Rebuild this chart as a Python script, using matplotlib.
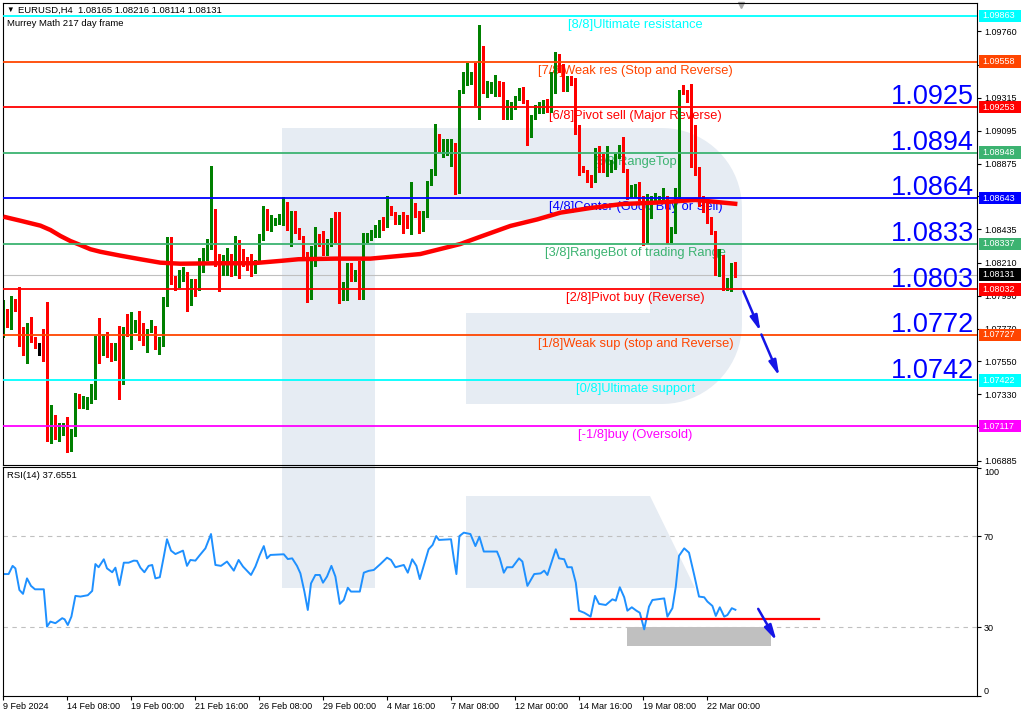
import numpy as np
import matplotlib
matplotlib.use('Agg')
import matplotlib.pyplot as plt
from matplotlib.patches import Polygon, Rectangle
from matplotlib.transforms import blended_transform_factory

plt.rcParams['font.family'] = ['Liberation Sans', 'DejaVu Sans']

# EURUSD H4 candles
opens = [1.0773, 1.0785, 1.0779, 1.0795, 1.0791, 1.0768, 1.0762, 1.0781, 1.0771, 1.0766,
         1.0766, 1.0766, 1.0707, 1.0714, 1.0708, 1.0711, 1.0713, 1.0698, 1.0707, 1.0730,
         1.0726, 1.0727, 1.0728, 1.0731, 1.0765, 1.0761, 1.0771, 1.0765, 1.0758, 1.0765,
         1.0745, 1.0777, 1.0774, 1.0779, 1.0781, 1.0775, 1.0769, 1.0775, 1.0778, 1.0765,
         1.0767, 1.0796, 1.0821, 1.0811, 1.0810, 1.0810, 1.0814, 1.0798, 1.0809, 1.0806,
         1.0817, 1.0825, 1.0832, 1.0851, 1.0823, 1.0821, 1.0821, 1.0822, 1.0816, 1.0831,
         1.0823, 1.0823, 1.0825, 1.0815, 1.0822, 1.0838, 1.0857, 1.0844, 1.0849, 1.0849,
         1.0850, 1.0852, 1.0846, 1.0850, 1.0844, 1.0838, 1.0827, 1.0798, 1.0821, 1.0838,
         1.0836, 1.0827, 1.0834, 1.0850, 1.0837, 1.0798, 1.0798, 1.0820, 1.0811, 1.0815,
         1.0811, 1.0836, 1.0837, 1.0839, 1.0843, 1.0849, 1.0847, 1.0857, 1.0854, 1.0848,
         1.0852, 1.0850, 1.0845, 1.0859, 1.0855, 1.0842, 1.0854, 1.0874, 1.0883, 1.0901,
         1.0895, 1.0897, 1.0898, 1.0901, 1.0871, 1.0936, 1.0946, 1.0945, 1.0945, 1.0934,
         1.0957, 1.0939, 1.0939, 1.0939, 1.0941, 1.0934, 1.0918, 1.0925, 1.0925, 1.0931,
         1.0937, 1.0930, 1.0909, 1.0918, 1.0923, 1.0924, 1.0927, 1.0923, 1.0936, 1.0955,
         1.0951, 1.0938, 1.0945, 1.0941, 1.0912, 1.0885, 1.0883, 1.0879, 1.0876, 1.0898,
         1.0893, 1.0883, 1.0884, 1.0885, 1.0892, 1.0898, 1.0883, 1.0866, 1.0866, 1.0870,
         1.0865, 1.0835, 1.0852, 1.0863, 1.0863, 1.0863, 1.0864, 1.0838, 1.0843, 1.0863,
         1.0938, 1.0936, 1.0931, 1.0912, 1.0884, 1.0863, 1.0859, 1.0850, 1.0841, 1.0815,
         1.0825, 1.0805, 1.0805, 1.08165]
highs = [1.0796, 1.0790, 1.0799, 1.0797, 1.0805, 1.0778, 1.0781, 1.0785, 1.0771, 1.0767,
         1.0777, 1.0795, 1.0726, 1.0719, 1.0714, 1.0714, 1.0718, 1.0710, 1.0734, 1.0733,
         1.0732, 1.0731, 1.0740, 1.0772, 1.0784, 1.0773, 1.0775, 1.0767, 1.0767, 1.0779,
         1.0778, 1.0787, 1.0788, 1.0783, 1.0789, 1.0781, 1.0777, 1.0783, 1.0779, 1.0771,
         1.0798, 1.0838, 1.0838, 1.0812, 1.0816, 1.0818, 1.0815, 1.0810, 1.0810, 1.0824,
         1.0831, 1.0837, 1.0886, 1.0857, 1.0827, 1.0826, 1.0831, 1.0827, 1.0839, 1.0836,
         1.0830, 1.0825, 1.0827, 1.0823, 1.0840, 1.0859, 1.0857, 1.0853, 1.0851, 1.0854,
         1.0865, 1.0862, 1.0856, 1.0856, 1.0844, 1.0839, 1.0828, 1.0832, 1.0845, 1.0840,
         1.0842, 1.0837, 1.0851, 1.0855, 1.0855, 1.0808, 1.0821, 1.0821, 1.0816, 1.0822,
         1.0841, 1.0841, 1.0843, 1.0846, 1.0850, 1.0852, 1.0866, 1.0859, 1.0855, 1.0853,
         1.0855, 1.0853, 1.0875, 1.0861, 1.0856, 1.0856, 1.0876, 1.0884, 1.0914, 1.0907,
         1.0904, 1.0904, 1.0904, 1.0901, 1.0937, 1.0949, 1.0955, 1.0949, 1.0955, 1.0980,
         1.0966, 1.0943, 1.0942, 1.0947, 1.0943, 1.0942, 1.0930, 1.0929, 1.0933, 1.0938,
         1.0939, 1.0930, 1.0920, 1.0927, 1.0929, 1.0930, 1.0931, 1.0949, 1.0962, 1.0961,
         1.0954, 1.0946, 1.0946, 1.0945, 1.0913, 1.0886, 1.0883, 1.0880, 1.0898, 1.0899,
         1.0894, 1.0899, 1.0890, 1.0894, 1.0900, 1.0905, 1.0884, 1.0873, 1.0874, 1.0875,
         1.0866, 1.0867, 1.0866, 1.0868, 1.0866, 1.0871, 1.0866, 1.0845, 1.0871, 1.0937,
         1.0940, 1.0937, 1.0941, 1.0913, 1.0885, 1.0866, 1.0861, 1.0852, 1.0842, 1.0830,
         1.0826, 1.0811, 1.0821, 1.08216]
lows = [1.0771, 1.0778, 1.0777, 1.0789, 1.0765, 1.0759, 1.0754, 1.0768, 1.0764, 1.0759,
        1.0755, 1.0702, 1.0700, 1.0703, 1.0702, 1.0706, 1.0694, 1.0695, 1.0705, 1.0724,
        1.0724, 1.0723, 1.0727, 1.0730, 1.0754, 1.0759, 1.0758, 1.0755, 1.0756, 1.0730,
        1.0740, 1.0772, 1.0763, 1.0775, 1.0769, 1.0766, 1.0761, 1.0775, 1.0763, 1.0760,
        1.0765, 1.0792, 1.0807, 1.0803, 1.0805, 1.0809, 1.0789, 1.0793, 1.0799, 1.0803,
        1.0815, 1.0823, 1.0830, 1.0819, 1.0802, 1.0813, 1.0813, 1.0812, 1.0813, 1.0811,
        1.0819, 1.0816, 1.0812, 1.0814, 1.0821, 1.0836, 1.0843, 1.0842, 1.0846, 1.0847,
        1.0846, 1.0843, 1.0832, 1.0841, 1.0837, 1.0823, 1.0795, 1.0797, 1.0819, 1.0832,
        1.0826, 1.0826, 1.0832, 1.0835, 1.0794, 1.0796, 1.0796, 1.0809, 1.0809, 1.0797,
        1.0797, 1.0835, 1.0836, 1.0838, 1.0838, 1.0843, 1.0845, 1.0853, 1.0847, 1.0847,
        1.0841, 1.0844, 1.0840, 1.0852, 1.0841, 1.0842, 1.0852, 1.0873, 1.0880, 1.0895,
        1.0892, 1.0893, 1.0886, 1.0867, 1.0868, 1.0935, 1.0940, 1.0941, 1.0927, 1.0917,
        1.0935, 1.0932, 1.0935, 1.0933, 1.0933, 1.0917, 1.0917, 1.0917, 1.0924, 1.0930,
        1.0928, 1.0900, 1.0905, 1.0917, 1.0921, 1.0921, 1.0922, 1.0922, 1.0935, 1.0949,
        1.0936, 1.0936, 1.0940, 1.0907, 1.0880, 1.0882, 1.0875, 1.0872, 1.0875, 1.0882,
        1.0882, 1.0879, 1.0882, 1.0884, 1.0891, 1.0882, 1.0864, 1.0865, 1.0865, 1.0863,
        1.0833, 1.0834, 1.0851, 1.0862, 1.0862, 1.0862, 1.0834, 1.0835, 1.0841, 1.0862,
        1.0934, 1.0929, 1.0885, 1.0880, 1.0859, 1.0855, 1.0848, 1.0840, 1.0813, 1.0812,
        1.0803, 1.0803, 1.0802, 1.08114]
closes = [1.0794, 1.0783, 1.0795, 1.0790, 1.0767, 1.0762, 1.0781, 1.0771, 1.0765, 1.0766,
          1.0765, 1.0707, 1.0714, 1.0708, 1.0711, 1.0713, 1.0698, 1.0708, 1.0730, 1.0726,
          1.0727, 1.0728, 1.0732, 1.0765, 1.0761, 1.0772, 1.0763, 1.0758, 1.0765, 1.0744,
          1.0777, 1.0775, 1.0779, 1.0781, 1.0773, 1.0769, 1.0775, 1.0779, 1.0765, 1.0767,
          1.0797, 1.0821, 1.0810, 1.0807, 1.0814, 1.0814, 1.0798, 1.0809, 1.0806, 1.0817,
          1.0826, 1.0833, 1.0852, 1.0821, 1.0822, 1.0823, 1.0826, 1.0816, 1.0825, 1.0823,
          1.0821, 1.0819, 1.0815, 1.0822, 1.0839, 1.0857, 1.0844, 1.0850, 1.0850, 1.0851,
          1.0852, 1.0846, 1.0850, 1.0843, 1.0838, 1.0824, 1.0798, 1.0827, 1.0837, 1.0836,
          1.0828, 1.0834, 1.0850, 1.0836, 1.0798, 1.0804, 1.0820, 1.0811, 1.0815, 1.0811,
          1.0837, 1.0838, 1.0840, 1.0844, 1.0849, 1.0847, 1.0857, 1.0854, 1.0848, 1.0852,
          1.0850, 1.0845, 1.0859, 1.0855, 1.0842, 1.0855, 1.0875, 1.0884, 1.0901, 1.0897,
          1.0897, 1.0899, 1.0901, 1.0871, 1.0936, 1.0948, 1.0947, 1.0947, 1.0934, 1.0957,
          1.0938, 1.0940, 1.0940, 1.0941, 1.0933, 1.0918, 1.0924, 1.0926, 1.0933, 1.0937,
          1.0929, 1.0910, 1.0919, 1.0924, 1.0925, 1.0928, 1.0923, 1.0936, 1.0955, 1.0950,
          1.0938, 1.0945, 1.0941, 1.0910, 1.0885, 1.0883, 1.0876, 1.0873, 1.0898, 1.0893,
          1.0883, 1.0891, 1.0886, 1.0892, 1.0899, 1.0883, 1.0865, 1.0872, 1.0872, 1.0864,
          1.0835, 1.0859, 1.0865, 1.0865, 1.0865, 1.0866, 1.0835, 1.0844, 1.0863, 1.0936,
          1.0935, 1.0930, 1.0912, 1.0885, 1.0863, 1.0856, 1.0850, 1.0841, 1.0815, 1.0826,
          1.0805, 1.0809, 1.0818, 1.08131]

# moving average (thick red line)
ma_bars = [0, 4.25, 9.25, 11.75, 14.25, 16.75, 19.25, 21.75, 24.25, 29.25, 34.25, 39.25, 44.25,
           53.75, 62.25, 69.75, 73.75, 83, 91.75, 104.25, 114.25, 119.25, 126.75, 133.5,
           139.25, 146.75, 154.75, 163, 173, 183.5]
ma_vals = [1.08519, 1.08492, 1.08459, 1.08430, 1.08390, 1.08356, 1.08329, 1.08301, 1.08284,
           1.08258, 1.08234, 1.08211, 1.08204, 1.08207, 1.08207, 1.08224, 1.08234, 1.08238,
           1.08238, 1.08269, 1.08336, 1.08385, 1.08457, 1.08501, 1.08546, 1.08577, 1.08604,
           1.08613, 1.08631, 1.08604]

# RSI(14)
rsi_bars = [0, 1.3, 2.3, 3.0, 4.0, 4.9, 5.9, 6.9, 7.9, 10.1,
            10.9, 11.75, 13.0, 14.7, 15.3, 16.1, 17.0, 18.0, 19.25, 21.1,
            22.2, 23.0, 23.8, 25.1, 25.9, 27.2, 28.0, 29.0, 30.1, 31.3,
            32.6, 33.4, 34.25, 35.25, 36.3, 37.2, 38.0, 39.1, 40.1, 40.9,
            41.9, 43.0, 44.9, 45.9, 46.75, 48.0, 49.0, 50.5, 51.9, 53.0,
            54.4, 55.9, 57.6, 58.8, 59.9, 61.9, 63.0, 64.1, 65.1, 65.9,
            66.75, 70.1, 71.1, 72.2, 73.4, 74.25, 75.25, 76.1, 76.9, 78.0,
            79.1, 79.9, 80.9, 82.0, 83.0, 84.1, 85.1, 86.1, 86.9, 89.1,
            90.1, 91.3, 92.6, 94.25, 95.9, 96.9, 98.0, 100.1, 101.1, 102.2,
            103.25, 104.1, 105.25, 106.3, 107.3, 108.2, 108.9, 111.9, 112.6, 113.25,
            114.0, 115.1, 116.75, 118.0, 119.0, 120.1, 123.4, 124.1, 125.1, 125.9,
            127.25, 128.9, 129.75, 131.0, 132.7, 134.3, 135.2, 136.0, 138.1, 138.9,
            140.2, 141.0, 142.1, 143.1, 143.9, 145.2, 146.8, 147.9, 148.9, 150.6,
            152.25, 153.1, 154.1, 155.2, 156.0, 157.1, 158.25, 159.1, 160.2, 161.4,
            162.25, 165.2, 166.0, 167.25, 168.1, 168.9, 170.2, 171.4, 172.7, 173.9,
            175.2, 176.0, 177.25, 178.1, 179.1, 180.2, 181.0, 182.1, 183.0]
rsi_vals = [53.4, 53.4, 57.0, 55.9, 46.4, 44.7, 51.5, 48.2, 46.7, 46.7,
            30.3, 32.5, 31.8, 34.0, 33.5, 31.0, 34.7, 43.8, 43.5, 44.1,
            46.0, 57.8, 56.4, 59.9, 55.9, 54.2, 56.2, 48.5, 58.4, 58.4,
            59.3, 59.2, 56.2, 54.2, 57.0, 57.4, 51.5, 52.0, 61.1, 68.7,
            63.7, 62.2, 63.7, 57.0, 59.6, 59.3, 61.5, 64.7, 71.0, 57.4,
            57.0, 58.9, 54.9, 59.6, 56.7, 53.0, 56.7, 61.8, 65.7, 60.3,
            61.8, 62.1, 60.0, 60.3, 57.0, 53.7, 45.7, 37.6, 49.3, 53.0,
            53.0, 49.6, 52.3, 57.0, 52.3, 40.3, 42.0, 47.4, 45.7, 45.7,
            54.0, 54.8, 55.2, 57.8, 60.6, 59.6, 56.4, 57.4, 54.0, 59.9,
            57.0, 51.2, 58.1, 64.3, 66.2, 70.1, 68.4, 68.7, 60.3, 53.4,
            70.1, 71.6, 71.0, 65.7, 69.8, 63.3, 63.3, 60.3, 54.0, 56.4,
            56.4, 60.3, 58.9, 48.2, 53.4, 53.7, 54.9, 53.0, 64.3, 60.3,
            59.9, 56.4, 56.4, 49.6, 37.3, 36.4, 34.7, 43.8, 40.3, 39.8,
            42.3, 41.7, 47.6, 43.2, 37.3, 38.8, 37.3, 36.4, 29.1, 39.1,
            42.0, 42.7, 34.7, 38.4, 47.9, 61.4, 64.7, 62.8, 53.0, 43.5,
            43.2, 41.3, 39.4, 35.0, 38.8, 34.7, 35.4, 38.4, 37.7]

# Murrey Math levels
levels = [1.09863, 1.09558, 1.09253, 1.08948, 1.08643, 1.08337, 1.08032, 1.07727, 1.07422, 1.07117]
level_names = ['[8/8]Ultimate resistance', '[7/8]Weak res (Stop and Reverse)',
               '[6/8]Pivot sell (Major Reverse)', '[5/8]RangeTop',
               '[4/8]Center (Good Buy or Sell)', '[3/8]RangeBot of trading Range',
               '[2/8]Pivot buy (Reverse)', '[1/8]Weak sup (stop and Reverse)',
               '[0/8]Ultimate support', '[-1/8]buy (Oversold)']
level_colors = ['#00FFFF', '#FF4500', '#FF0000', '#3CB371', '#0000FF',
                '#3CB371', '#FF0000', '#FF4500', '#00FFFF', '#FF00FF']

target_labels = ['1.0925', '1.0894', '1.0864', '1.0833', '1.0803', '1.0772', '1.0742']
target_prices = [1.09253, 1.08948, 1.08643, 1.08337, 1.08032, 1.07727, 1.07422]

price_ticks = [1.09760, 1.09535, 1.09315, 1.09095, 1.08875, 1.08655, 1.08435,
               1.08210, 1.07990, 1.07770, 1.07550, 1.07330, 1.07110, 1.06885]
last_price = 1.08131
rsi_last = 37.6551
rsi_support = 33.7

date_bars = [0, 16, 32, 48, 64, 80, 96, 112, 128, 144, 160, 176]
date_labels = ['9 Feb 2024', '14 Feb 08:00', '19 Feb 00:00', '21 Feb 16:00', '26 Feb 08:00',
               '29 Feb 00:00', '4 Mar 16:00', '7 Mar 08:00', '12 Mar 00:00', '14 Mar 16:00',
               '19 Mar 08:00', '22 Mar 00:00']

W, H = 1024, 717
fig = plt.figure(figsize=(W / 100, H / 100), dpi=100)
fig.patch.set_facecolor('white')

# background watermark logo (pixel coords)
bg = fig.add_axes([0, 0, 1, 1], zorder=0)
bg.set_xlim(0, W)
bg.set_ylim(H, 0)
bg.axis('off')
r = 80
t1 = np.linspace(-np.pi / 2, 0, 20)
t2 = np.linspace(0, np.pi / 2, 20)
outline = [(282, 128)] + [(662 + r * np.cos(a), 208 + r * np.sin(a)) for a in t1] \
    + [(662 + r * np.cos(a), 324 + r * np.sin(a)) for a in t2] \
    + [(466, 404), (466, 313), (650, 313), (650, 220), (375, 220), (375, 588), (282, 588)]
logo_col = '#E6ECF3'
bg.add_patch(Polygon(outline, closed=True, fc=logo_col, ec='none'))
bg.add_patch(Polygon([(466, 496), (650, 496), (695, 588), (466, 588)], closed=True, fc=logo_col, ec='none'))
bg.plot([741], [5], marker='v', ms=5, color='#A8A8A8')

xmin = -0.1
xmax = xmin + 974 / 4
ax = fig.add_axes([3 / W, 1 - 465 / H, 974 / W, 462 / H], zorder=1)
ax2 = fig.add_axes([3 / W, 1 - 696 / H, 974 / W, 229 / H], zorder=1)
for a in (ax, ax2):
    a.patch.set_alpha(0)
    a.set_xlim(xmin, xmax)
    for s in a.spines.values():
        s.set_color('black')
        s.set_linewidth(0.8)

# main panel
ax.set_ylim(1.06856, 1.09950)
ax.set_xticks([])
ax.set_yticks(price_ticks)
# labels fully covered by the level boxes are left blank
tick_text = ['' if min(abs(v - l) for l in levels) < 0.0003 else f'{v:.5f}' for v in price_ticks]
ax.set_yticklabels(tick_text)
ax.yaxis.tick_right()
ax.tick_params(axis='y', length=3, width=0.8, pad=2, labelsize=6.5)

o = np.array(opens)
c = np.array(closes)
x = np.arange(len(c))
cols = np.where(c > o, '#008000', np.where(c < o, '#FF0000', '#000000'))
ax.vlines(x, lows, highs, colors=cols, lw=0.75, zorder=2, antialiased=False)
body = np.maximum(np.abs(c - o), 0.00006)
ax.bar(x, body, bottom=np.minimum(o, c), width=0.75, color=cols, lw=0, zorder=2, antialiased=False)

ax.plot(ma_bars, ma_vals, color='#FF0000', lw=3.2, solid_capstyle='butt', zorder=3)
ax.axhline(last_price, color='#C0C0C0', lw=0.8, zorder=1.8)

trans = blended_transform_factory(ax.transAxes, ax.transData)
for lvl, name, col in zip(levels, level_names, level_colors):
    ax.axhline(lvl, color=col, lw=1.3, zorder=5)
    ax.text(158, lvl - 0.0002, name, color=col, fontsize=9.3, ha='center', va='top', zorder=1.5)
    ax.add_patch(Rectangle((1.0021, lvl - 0.00042), 0.0431, 0.00084, transform=trans,
                           fc=col, ec='none', clip_on=False, zorder=6))
    ax.text(1.0055, lvl, f'{lvl:.5f}', transform=trans, color='white', fontsize=6.5,
            ha='left', va='center', clip_on=False, zorder=7)
ax.add_patch(Rectangle((1.0021, last_price - 0.00042), 0.0431, 0.00084, transform=trans,
                       fc='black', ec='none', clip_on=False, zorder=6))
ax.text(1.0055, last_price, f'{last_price:.5f}', transform=trans, color='white', fontsize=6.5,
        ha='left', va='center', clip_on=False, zorder=7)

for lab, pr in zip(target_labels, target_prices):
    ax.text(242.7, pr + 0.00018, lab, fontsize=19.5, color='#0000FF', ha='right',
            va='baseline', zorder=7)

arrow_kw = dict(arrowstyle='-|>,head_length=0.9,head_width=0.22', color='#1515E6',
                lw=1.8, mutation_scale=10, shrinkA=0, shrinkB=0)
ax.annotate('', xy=(189.3, 1.0775), xytext=(185, 1.0802), arrowprops=arrow_kw, zorder=8)
ax.annotate('', xy=(194, 1.0745), xytext=(189.5, 1.0773), arrowprops=arrow_kw, zorder=8)

# RSI panel
ax2.set_ylim(-0.2, 100.46)
ax2.set_yticks([0, 30, 70, 100])
ax2.set_yticklabels(['0', '30', '70', '100'])
ax2.yaxis.tick_right()
ax2.tick_params(axis='y', length=3, width=0.8, pad=2, labelsize=6.5)
ylabs = ax2.get_yticklabels()
ylabs[0].set_va('bottom')
ylabs[-1].set_va('top')
ax2.set_xticks(date_bars)
ax2.set_xticklabels(date_labels, ha='left')
ax2.tick_params(axis='x', length=3, width=0.8, pad=1.5, labelsize=6.5)

for lv in (30, 70):
    ax2.axhline(lv, color='#C0C0C0', lw=0.8, ls=(0, (4, 4)), zorder=1)
ax2.add_patch(Rectangle((156, 21.8), 36, 8.2, fc='#C0C0C0', ec='none', zorder=1.5))
ax2.plot(rsi_bars, rsi_vals, color='#1E90FF', lw=1.4, zorder=2)
ax2.plot([142, 204], [rsi_support, rsi_support], color='#FF0000', lw=1.6, zorder=3)
ax2.annotate('', xy=(193.3, 24.0), xytext=(188.7, 38.1), arrowprops=arrow_kw, zorder=8)

# header texts
fig.text(6 / W, 1 - 10 / H, '▼', fontsize=5.5, va='center', ha='left')
fig.text(18 / W, 1 - 10 / H, 'EURUSD,H4  1.08165 1.08216 1.08114 1.08131', fontsize=6.8,
         va='center', ha='left')
fig.text(7 / W, 1 - 23 / H, 'Murrey Math 217 day frame', fontsize=6.8, va='center', ha='left')
fig.text(7 / W, 1 - 475 / H, f'RSI(14) {rsi_last}', fontsize=6.8, va='center', ha='left')

fig.savefig('out.png', dpi=100)
